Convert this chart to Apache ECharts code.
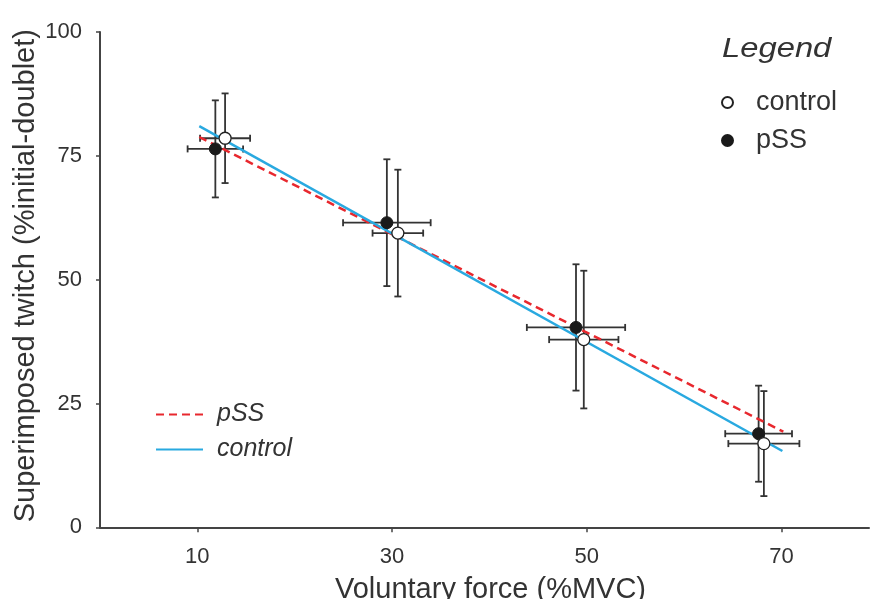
<!DOCTYPE html>
<html><head><meta charset="utf-8">
<script src="https://cdn.jsdelivr.net/npm/echarts@6/dist/echarts.min.js"></script>
<style>html,body{margin:0;padding:0;background:#fff}#c{width:873px;height:599px}</style>
</head><body><div id="c"></div>
<script>
// ---- data ----
const xTicks = [10, 30, 50, 70];
const yTicks = [0, 25, 50, 75, 100];

const controlX    = [12.85, 30.6, 49.7, 68.2];
const controlY    = [78.55, 59.4, 37.9, 16.9];
const controlXErr = [2.57, 2.6, 3.56, 3.65];
const controlYErr = [9.05, 12.8, 13.9, 10.6];

const pssX    = [11.85, 29.47, 48.9, 67.66];
const pssY    = [76.4, 61.5, 40.35, 18.9];
const pssXErr = [2.85, 4.5, 5.05, 3.43];
const pssYErr = [9.8, 12.8, 12.75, 9.7];

const controlFitX = [10.2, 70.1];
const controlFitY = [81.0, 15.4];
const pssFitX = [10.2, 70.2];
const pssFitY = [78.8, 19.3];

// ---- build ----
const FONT = '"Liberation Sans", Arial, sans-serif';
const TXT = '#333';
function rows(xs, ys, xe, ye){ return xs.map((x,i)=>[x, ys[i], xe ? xe[i] : 0, ye ? ye[i] : 0]); }
function errRender(params, api){
  const x = api.value(0), y = api.value(1), ex = api.value(2), ey = api.value(3);
  const l = api.coord([x-ex, y]), r = api.coord([x+ex, y]);
  const t = api.coord([x, y+ey]), b = api.coord([x, y-ey]);
  const c = 3.5;
  const st = {stroke:'#333', lineWidth:1.8};
  const seg = (x1,y1,x2,y2)=>({type:'line', shape:{x1,y1,x2,y2}, style:st});
  return {type:'group', children:[
    seg(l[0],l[1],r[0],r[1]),
    seg(l[0],l[1]-c,l[0],l[1]+c),
    seg(r[0],r[1]-c,r[0],r[1]+c),
    seg(t[0],t[1],b[0],b[1]),
    seg(t[0]-c,t[1],t[0]+c,t[1]),
    seg(b[0]-c,b[1],b[0]+c,b[1])
  ]};
}

const chart = echarts.init(document.getElementById('c'), null, {renderer:'canvas'});
chart.setOption({
  animation:false,
  backgroundColor:'#fff',
  textStyle:{fontFamily:FONT},
  grid:{left:100, top:32, width:769, height:495.3, containLabel:false, outerBoundsMode:'none'},
  xAxis:{
    type:'value', min:0, max:79,
    name:'Voluntary force (%MVC)', nameLocation:'middle', nameGap:48,
    nameTextStyle:{fontSize:29, color:TXT, fontFamily:FONT, padding:[0,0,0,12]},
    axisLine:{show:true, onZero:false, lineStyle:{color:'#444', width:2}},
    axisTick:{show:true, length:5, customValues:xTicks, lineStyle:{color:'#444', width:1.5}},
    axisLabel:{customValues:xTicks, fontSize:22, color:TXT, margin:19, fontFamily:FONT},
    splitLine:{show:false}
  },
  yAxis:{
    type:'value', min:0, max:100, interval:25,
    name:'Superimposed twitch (%initial-doublet)', nameLocation:'middle', nameGap:60,
    nameMoveOverlap:false,
    nameTextStyle:{fontSize:29, color:TXT, fontFamily:FONT, padding:[0,0,0,8]},
    axisLine:{show:true, lineStyle:{color:'#444', width:2}},
    axisTick:{show:true, length:4, lineStyle:{color:'#444', width:1.5}},
    axisLabel:{fontSize:22, color:TXT, margin:18, fontFamily:FONT,
      formatter:v=>yTicks.includes(v)?String(v):''},
    splitLine:{show:false}
  },
  legend:[
    {
      data:['control','pSS'], orient:'vertical', left:716, top:84,
      itemWidth:11, itemHeight:11, itemGap:11, icon:'circle',
      textStyle:{fontSize:27, color:TXT, fontFamily:FONT, lineHeight:26, padding:[0,0,0,18]}
    },
    {
      data:['pSS fit','control fit'], orient:'vertical', left:150, top:397,
      itemWidth:47, itemHeight:14, itemGap:10,
      itemStyle:{opacity:0, borderWidth:0},
      formatter:n=>n.replace(' fit',''),
      textStyle:{fontSize:25, fontStyle:'italic', color:TXT, fontFamily:FONT, lineHeight:25, padding:[0,0,0,9]}
    }
  ],
  graphic:[
    {type:'text', x:722, y:35, scaleX:1.17,
     style:{text:'Legend', font:'italic 28px "Liberation Sans", Arial, sans-serif', fill:TXT}}
  ],
  series:[
    {name:'pSS err', type:'custom', renderItem:errRender, data:rows(pssX,pssY,pssXErr,pssYErr), z:2, silent:true},
    {name:'control err', type:'custom', renderItem:errRender, data:rows(controlX,controlY,controlXErr,controlYErr), z:2, silent:true},
    {name:'pSS fit', type:'line', data:rows(pssFitX,pssFitY).map(r=>[r[0],r[1]]), symbol:'none', z:3,
     lineStyle:{color:'#e8282e', width:2.5, type:[8,5]}, itemStyle:{color:'#e8282e'}},
    {name:'control fit', type:'line', data:rows(controlFitX,controlFitY).map(r=>[r[0],r[1]]), symbol:'none', z:3,
     lineStyle:{color:'#29a9e0', width:2.5}, itemStyle:{color:'#29a9e0'}},
    {name:'pSS', type:'scatter', data:rows(pssX,pssY).map(r=>[r[0],r[1]]), symbol:'circle', symbolSize:12, z:4,
     itemStyle:{color:'#1a1a1a', borderColor:'#1a1a1a', borderWidth:1, opacity:1}},
    {name:'control', type:'scatter', data:rows(controlX,controlY).map(r=>[r[0],r[1]]), symbol:'circle', symbolSize:12, z:4,
     itemStyle:{color:'#fff', borderColor:'#222', borderWidth:1.3, opacity:1}}
  ]
});
</script></body></html>
